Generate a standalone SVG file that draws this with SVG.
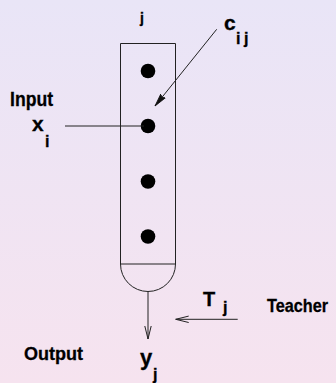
<svg xmlns="http://www.w3.org/2000/svg" width="336" height="383" viewBox="0 0 336 383">
<defs>
<linearGradient id="bg" x1="0" y1="0" x2="0" y2="1">
<stop offset="0" stop-color="#e9e5f7"/>
<stop offset="1" stop-color="#f6e3ef"/>
</linearGradient>
<marker id="open" markerWidth="14" markerHeight="8" refX="13" refY="4" orient="auto" markerUnits="userSpaceOnUse">
<path d="M0,0.8 L13,4 L0,7.2" fill="none" stroke="#222" stroke-width="1"/>
</marker>
<marker id="solid" markerWidth="14" markerHeight="8" refX="13" refY="4" orient="auto" markerUnits="userSpaceOnUse">
<path d="M0,1 L13,4 L0,7 L2,4 Z" fill="#111" stroke="#111" stroke-width="0.8"/>
</marker>
</defs>
<style>
.t{font-family:"Liberation Sans",Arial,sans-serif;font-weight:bold;fill:#000;stroke:#000;stroke-width:0.3}
.ln{stroke:#222;stroke-width:1;fill:none}
</style>
<rect x="0" y="0" width="336" height="383" fill="url(#bg)"/>
<g id="neuron">
<path class="ln" d="M120.5,43.5 H175.5 V264 A27.5,27.5 0 0 1 120.5,264 Z"/>
<line class="ln" x1="120.5" y1="264" x2="175.5" y2="264"/>
<circle cx="148" cy="71" r="7.3" fill="#000"/>
<circle cx="148" cy="126" r="7.3" fill="#000"/>
<circle cx="148" cy="181.5" r="7.3" fill="#000"/>
<circle cx="148" cy="236.5" r="7.3" fill="#000"/>
<text class="t" x="140" y="23" font-size="14">j</text>
</g>
<g id="input">
<text class="t" x="10" y="106" font-size="20" textLength="43" lengthAdjust="spacingAndGlyphs">Input</text>
<text class="t" x="32" y="131" font-size="21">x</text>
<text class="t" x="45" y="147" font-size="16">i</text>
</g>
<g id="weight">
<text class="t" x="224" y="29.5" font-size="21">c</text>
<text class="t" x="236" y="43.5" font-size="16">i</text>
<text class="t" x="244" y="43.5" font-size="16">j</text>
</g>
<g id="teacher">
<text class="t" x="203" y="306" font-size="20">T</text>
<text class="t" x="223" y="313" font-size="16">j</text>
<text class="t" x="267" y="311.7" font-size="18.5" textLength="61" lengthAdjust="spacingAndGlyphs">Teacher</text>
</g>
<g id="output">
<text class="t" x="24" y="360" font-size="18.5" textLength="59" lengthAdjust="spacingAndGlyphs">Output</text>
<text class="t" x="140" y="365" font-size="22">y</text>
<text class="t" x="153" y="380" font-size="16">j</text>
</g>
<g id="connectors">
<line class="ln" x1="65" y1="126" x2="144" y2="126"/>
<line class="ln" x1="216.7" y1="29.3" x2="155" y2="106" marker-end="url(#solid)"/>
<line class="ln" x1="148" y1="291.5" x2="148" y2="339" marker-end="url(#open)"/>
<line class="ln" x1="237.7" y1="319.3" x2="175.7" y2="319.3" marker-end="url(#open)"/>
</g>
</svg>
